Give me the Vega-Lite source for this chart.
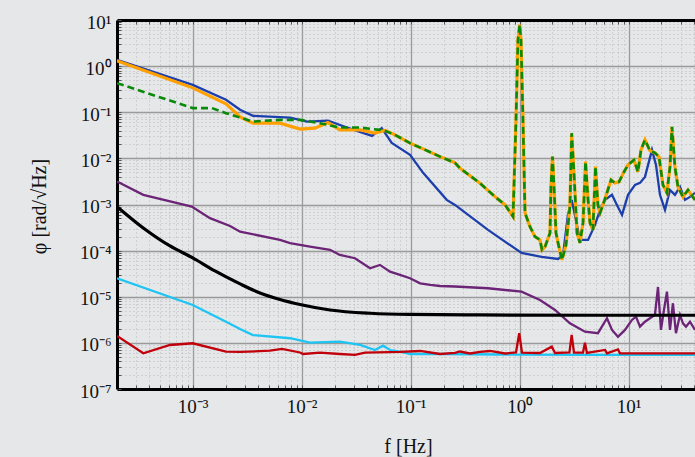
{
"$schema": "https://vega.github.io/schema/vega-lite/v6.json",
"width": 578, "height": 369,
"autosize": "none",
"padding": {"left": 117, "top": 20, "right": 0, "bottom": 68},
"background": "#e6e7e9",
"config": {"view": {"stroke": null}, "axis": {"labelFont": "Liberation Serif", "titleFont": "Liberation Serif", "labelColor": "#111111", "titleColor": "#111111", "titleFontWeight": "normal"}},
"datasets": {
"d": [
{"s":"blue","f":2.02e-4,"v":1.37},{"s":"blue","f":1.0e-3,"v":0.393},{"s":"blue","f":2.02e-3,"v":0.186},{"s":"blue","f":2.72e-3,"v":0.113},{"s":"blue","f":3.57e-3,"v":0.0835},{"s":"blue","f":7.82e-3,"v":0.0767},{"s":"blue","f":1.12e-2,"v":0.0628},{"s":"blue","f":1.74e-2,"v":0.0661},{"s":"blue","f":2.61e-2,"v":0.0466},{"s":"blue","f":4.42e-2,"v":0.0308},{"s":"blue","f":5.42e-2,"v":0.0452},{"s":"blue","f":6.70e-2,"v":0.0217},{"s":"blue","f":9.86e-2,"v":0.0119},{"s":"blue","f":0.130,"v":0.00485},{"s":"blue","f":0.214,"v":0.00126},{"s":"blue","f":0.255,"v":9.8e-4},{"s":"blue","f":0.512,"v":2.81e-4},{"s":"blue","f":1.04,"v":8.9e-5},{"s":"blue","f":1.59,"v":7.3e-5},{"s":"blue","f":2.25,"v":6.6e-5},{"s":"blue","f":2.50,"v":8.07e-5},{"s":"blue","f":2.77,"v":5.94e-4},{"s":"blue","f":3.00,"v":1.26e-3},{"s":"blue","f":3.21,"v":5.94e-4},{"s":"blue","f":3.57,"v":1.71e-4},{"s":"blue","f":4.24,"v":1.71e-4},{"s":"blue","f":4.91,"v":3.61e-4},{"s":"blue","f":5.46,"v":7.64e-4},{"s":"blue","f":6.07,"v":1.26e-3},{"s":"blue","f":7.03,"v":1.62e-3},{"s":"blue","f":7.80,"v":9.8e-4},{"s":"blue","f":8.69,"v":5.94e-4},{"s":"blue","f":9.86,"v":1.62e-3},{"s":"blue","f":11.43,"v":2.66e-3},{"s":"blue","f":12.70,"v":2.94e-3},{"s":"blue","f":14.11,"v":3.97e-3},{"s":"blue","f":16.37,"v":0.0153},{"s":"blue","f":17.81,"v":7.23e-3},{"s":"blue","f":19.37,"v":1.62e-3},{"s":"blue","f":21.53,"v":7.64e-4},{"s":"blue","f":23.93,"v":2.07e-3},{"s":"blue","f":26.58,"v":1.62e-3},{"s":"blue","f":29.56,"v":2.41e-3},{"s":"blue","f":32.85,"v":1.26e-3},{"s":"blue","f":36.5,"v":1.46e-3},{"s":"blue","f":40.6,"v":1.79e-3},
{"s":"orange","f":2.02e-4,"v":1.30},{"s":"orange","f":1.0e-3,"v":0.338},{"s":"orange","f":2.02e-3,"v":0.152},{"s":"orange","f":2.72e-3,"v":0.0795},{"s":"orange","f":3.57e-3,"v":0.0580},{"s":"orange","f":6.32e-3,"v":0.0580},{"s":"orange","f":9.66e-3,"v":0.0430},{"s":"orange","f":1.32e-2,"v":0.0452},{"s":"orange","f":1.74e-2,"v":0.0598},{"s":"orange","f":2.24e-2,"v":0.0415},{"s":"orange","f":3.43e-2,"v":0.0415},{"s":"orange","f":4.70e-2,"v":0.0352},{"s":"orange","f":5.81e-2,"v":0.0401},{"s":"orange","f":7.18e-2,"v":0.0323},{"s":"orange","f":9.86e-2,"v":0.0214},{"s":"orange","f":0.136,"v":0.0153},{"s":"orange","f":0.186,"v":0.0109},{"s":"orange","f":0.255,"v":7.98e-3},{"s":"orange","f":0.283,"v":6.13e-3},{"s":"orange","f":0.432,"v":2.90e-3},{"s":"orange","f":0.593,"v":1.48e-3},{"s":"orange","f":0.735,"v":9.80e-4},{"s":"orange","f":0.869,"v":5.47e-4},{"s":"orange","f":0.925,"v":0.0684},{"s":"orange","f":0.964,"v":3.72},{"s":"orange","f":1.0,"v":7.87},{"s":"orange","f":1.028,"v":3.72},{"s":"orange","f":1.072,"v":0.0684},{"s":"orange","f":1.119,"v":6.57e-4},{"s":"orange","f":1.242,"v":3.32e-4},{"s":"orange","f":1.380,"v":2.01e-4},{"s":"orange","f":1.535,"v":1.71e-4},{"s":"orange","f":1.603,"v":1.04e-4},{"s":"orange","f":1.710,"v":1.22e-4},{"s":"orange","f":1.897,"v":2.42e-4},{"s":"orange","f":1.936,"v":2.45e-3},{"s":"orange","f":2.0,"v":0.0109},{"s":"orange","f":2.065,"v":2.45e-3},{"s":"orange","f":2.153,"v":2.42e-4},{"s":"orange","f":2.249,"v":1.47e-4},{"s":"orange","f":2.443,"v":6.28e-5},{"s":"orange","f":2.66,"v":1.33e-4},{"s":"orange","f":2.891,"v":9.0e-4},{"s":"orange","f":3.0,"v":0.0352},{"s":"orange","f":3.148,"v":4.85e-3},{"s":"orange","f":3.357,"v":2.42e-4},{"s":"orange","f":3.573,"v":1.47e-4},{"s":"orange","f":3.811,"v":3.99e-4},{"s":"orange","f":4.02,"v":8.53e-3},{"s":"orange","f":4.24,"v":1.26e-3},{"s":"orange","f":4.416,"v":3.99e-4},{"s":"orange","f":4.699,"v":2.81e-4},{"s":"orange","f":4.96,"v":6.64e-3},{"s":"orange","f":5.22,"v":9.8e-4},{"s":"orange","f":5.458,"v":6.57e-4},{"s":"orange","f":5.81,"v":9.8e-4},{"s":"orange","f":6.32,"v":1.79e-3},{"s":"orange","f":6.89,"v":3.42e-3},{"s":"orange","f":7.48,"v":2.94e-3},{"s":"orange","f":8.15,"v":3.09e-3},{"s":"orange","f":9.06,"v":5.09e-3},{"s":"orange","f":9.86,"v":7.23e-3},{"s":"orange","f":11.19,"v":9.27e-3},{"s":"orange","f":12.17,"v":5.09e-3},{"s":"orange","f":12.97,"v":0.0153},{"s":"orange","f":14.11,"v":0.0252},{"s":"orange","f":15.68,"v":0.0146},{"s":"orange","f":17.42,"v":0.0132},{"s":"orange","f":18.97,"v":0.0108},{"s":"orange","f":20.63,"v":2.66e-3},{"s":"orange","f":22.44,"v":1.79e-3},{"s":"orange","f":23.93,"v":6.54e-3},{"s":"orange","f":24.95,"v":0.0482},{"s":"orange","f":26.58,"v":6.54e-3},{"s":"orange","f":28.33,"v":2.41e-3},{"s":"orange","f":31.48,"v":1.46e-3},{"s":"orange","f":35.01,"v":2.07e-3},{"s":"orange","f":38.1,"v":1.54e-3},{"s":"orange","f":40.6,"v":1.26e-3},
{"s":"green","f":2.02e-4,"v":0.428},{"s":"green","f":1.0e-3,"v":0.123},{"s":"green","f":1.50e-3,"v":0.123},{"s":"green","f":2.02e-3,"v":0.0956},{"s":"green","f":2.72e-3,"v":0.0767},{"s":"green","f":3.57e-3,"v":0.0628},{"s":"green","f":6.32e-3,"v":0.0684},{"s":"green","f":9.66e-3,"v":0.0684},{"s":"green","f":1.47e-2,"v":0.0580},{"s":"green","f":2.24e-2,"v":0.0466},{"s":"green","f":3.43e-2,"v":0.0466},{"s":"green","f":5.22e-2,"v":0.0415},{"s":"green","f":5.81e-2,"v":0.0395},{"s":"green","f":7.18e-2,"v":0.0323},{"s":"green","f":9.86e-2,"v":0.0214},{"s":"green","f":0.136,"v":0.0153},{"s":"green","f":0.186,"v":0.0109},{"s":"green","f":0.255,"v":7.98e-3},{"s":"green","f":0.283,"v":6.13e-3},{"s":"green","f":0.432,"v":2.90e-3},{"s":"green","f":0.593,"v":1.48e-3},{"s":"green","f":0.735,"v":9.80e-4},{"s":"green","f":0.869,"v":5.47e-4},{"s":"green","f":0.925,"v":0.0684},{"s":"green","f":0.964,"v":3.72},{"s":"green","f":1.0,"v":7.87},{"s":"green","f":1.028,"v":3.72},{"s":"green","f":1.072,"v":0.0684},{"s":"green","f":1.119,"v":6.57e-4},{"s":"green","f":1.242,"v":3.32e-4},{"s":"green","f":1.380,"v":2.01e-4},{"s":"green","f":1.535,"v":1.71e-4},{"s":"green","f":1.603,"v":1.04e-4},{"s":"green","f":1.710,"v":1.22e-4},{"s":"green","f":1.897,"v":2.42e-4},{"s":"green","f":1.936,"v":2.45e-3},{"s":"green","f":2.0,"v":0.0109},{"s":"green","f":2.065,"v":2.45e-3},{"s":"green","f":2.153,"v":2.42e-4},{"s":"green","f":2.249,"v":1.47e-4},{"s":"green","f":2.443,"v":6.28e-5},{"s":"green","f":2.66,"v":1.33e-4},{"s":"green","f":2.891,"v":9.0e-4},{"s":"green","f":3.0,"v":0.0352},{"s":"green","f":3.148,"v":4.85e-3},{"s":"green","f":3.357,"v":2.42e-4},{"s":"green","f":3.573,"v":1.47e-4},{"s":"green","f":3.811,"v":3.99e-4},{"s":"green","f":4.02,"v":8.53e-3},{"s":"green","f":4.24,"v":1.26e-3},{"s":"green","f":4.416,"v":3.99e-4},{"s":"green","f":4.699,"v":2.81e-4},{"s":"green","f":4.96,"v":6.64e-3},{"s":"green","f":5.22,"v":9.8e-4},{"s":"green","f":5.458,"v":6.57e-4},{"s":"green","f":5.81,"v":9.8e-4},{"s":"green","f":6.32,"v":1.79e-3},{"s":"green","f":6.89,"v":3.42e-3},{"s":"green","f":7.48,"v":2.94e-3},{"s":"green","f":8.15,"v":3.09e-3},{"s":"green","f":9.06,"v":5.09e-3},{"s":"green","f":9.86,"v":7.23e-3},{"s":"green","f":11.19,"v":9.27e-3},{"s":"green","f":12.17,"v":5.09e-3},{"s":"green","f":12.97,"v":0.0153},{"s":"green","f":14.11,"v":0.0252},{"s":"green","f":15.68,"v":0.0146},{"s":"green","f":17.42,"v":0.0132},{"s":"green","f":18.97,"v":0.0108},{"s":"green","f":20.63,"v":2.66e-3},{"s":"green","f":22.44,"v":1.79e-3},{"s":"green","f":23.93,"v":6.54e-3},{"s":"green","f":24.95,"v":0.0482},{"s":"green","f":26.58,"v":6.54e-3},{"s":"green","f":28.33,"v":2.41e-3},{"s":"green","f":31.48,"v":1.46e-3},{"s":"green","f":35.01,"v":2.07e-3},{"s":"green","f":38.1,"v":1.54e-3},{"s":"green","f":40.6,"v":1.26e-3},
{"s":"purple","f":2.02e-4,"v":3.14e-3},{"s":"purple","f":3.52e-4,"v":1.62e-3},{"s":"purple","f":9.8e-4,"v":9.0e-4},{"s":"purple","f":1.44e-3,"v":5.05e-4},{"s":"purple","f":2.20e-3,"v":3.43e-4},{"s":"purple","f":2.72e-3,"v":2.58e-4},{"s":"purple","f":6.32e-3,"v":1.71e-4},{"s":"purple","f":7.82e-3,"v":1.45e-4},{"s":"purple","f":1.19e-2,"v":1.22e-4},{"s":"purple","f":1.82e-2,"v":1.04e-4},{"s":"purple","f":2.24e-2,"v":8.07e-5},{"s":"purple","f":3.08e-2,"v":6.84e-5},{"s":"purple","f":4.24e-2,"v":4.15e-5},{"s":"purple","f":5.22e-2,"v":4.90e-5},{"s":"purple","f":6.46e-2,"v":3.50e-5},{"s":"purple","f":7.98e-2,"v":2.97e-5},{"s":"purple","f":9.86e-2,"v":2.52e-5},{"s":"purple","f":0.122,"v":1.96e-5},{"s":"purple","f":0.151,"v":1.80e-5},{"s":"purple","f":0.186,"v":1.71e-5},{"s":"purple","f":0.255,"v":1.67e-5},{"s":"purple","f":0.512,"v":1.53e-5},{"s":"purple","f":1.04,"v":1.29e-5},{"s":"purple","f":1.535,"v":8.53e-6},{"s":"purple","f":2.109,"v":5.17e-6},{"s":"purple","f":2.891,"v":2.66e-6},{"s":"purple","f":3.972,"v":1.75e-6},{"s":"purple","f":5.224,"v":1.62e-6},{"s":"purple","f":6.324,"v":3.42e-6},{"s":"purple","f":7.031,"v":1.91e-6},{"s":"purple","f":7.98,"v":1.36e-6},{"s":"purple","f":9.25,"v":1.91e-6},{"s":"purple","f":10.72,"v":3.14e-6},{"s":"purple","f":11.67,"v":3.70e-6},{"s":"purple","f":12.70,"v":2.25e-6},{"s":"purple","f":14.11,"v":2.88e-6},{"s":"purple","f":15.68,"v":3.42e-6},{"s":"purple","f":17.42,"v":4.03e-6},{"s":"purple","f":18.58,"v":1.63e-5},{"s":"purple","f":19.78,"v":1.91e-6},{"s":"purple","f":21.07,"v":5.17e-6},{"s":"purple","f":22.44,"v":1.29e-5},{"s":"purple","f":23.93,"v":1.91e-6},{"s":"purple","f":25.47,"v":7.23e-6},{"s":"purple","f":27.15,"v":1.62e-6},{"s":"purple","f":29.56,"v":4.03e-6},{"s":"purple","f":31.48,"v":2.66e-6},{"s":"purple","f":33.56,"v":2.25e-6},{"s":"purple","f":36.5,"v":2.88e-6},{"s":"purple","f":40.6,"v":1.91e-6},
{"s":"black","f":2.02e-4,"v":9.0e-4},{"s":"black","f":3.52e-4,"v":3.10e-4},{"s":"black","f":6.19e-4,"v":1.26e-4},{"s":"black","f":1.0e-3,"v":6.95e-5},{"s":"black","f":1.60e-3,"v":3.63e-5},{"s":"black","f":2.72e-3,"v":1.90e-5},{"s":"black","f":4.14e-3,"v":1.21e-5},{"s":"black","f":6.32e-3,"v":8.73e-6},{"s":"black","f":9.66e-3,"v":6.81e-6},{"s":"black","f":1.82e-2,"v":5.17e-6},{"s":"black","f":4.24e-2,"v":4.39e-6},{"s":"black","f":9.86e-2,"v":4.13e-6},{"s":"black","f":0.432,"v":4.03e-6},{"s":"black","f":5.458,"v":3.97e-6},{"s":"black","f":40.6,"v":3.97e-6},
{"s":"cyan","f":2.02e-4,"v":2.52e-5},{"s":"cyan","f":1.0e-3,"v":6.64e-6},{"s":"cyan","f":2.02e-3,"v":2.88e-6},{"s":"cyan","f":2.72e-3,"v":2.0e-6},{"s":"cyan","f":3.57e-3,"v":1.48e-6},{"s":"cyan","f":7.82e-3,"v":1.26e-6},{"s":"cyan","f":1.19e-2,"v":1.01e-6},{"s":"cyan","f":2.24e-2,"v":1.06e-6},{"s":"cyan","f":3.43e-2,"v":9.0e-7},{"s":"cyan","f":4.70e-2,"v":7.0e-7},{"s":"cyan","f":5.57e-2,"v":8.7e-7},{"s":"cyan","f":6.46e-2,"v":7.0e-7},{"s":"cyan","f":7.98e-2,"v":6.44e-7},{"s":"cyan","f":9.86e-2,"v":5.74e-7},{"s":"cyan","f":0.186,"v":5.74e-7},{"s":"cyan","f":0.659,"v":5.6e-7},{"s":"cyan","f":5.458,"v":5.47e-7},{"s":"cyan","f":40.6,"v":5.47e-7},
{"s":"red","f":2.02e-4,"v":1.41e-6},{"s":"red","f":3.52e-4,"v":5.95e-7},{"s":"red","f":6.19e-4,"v":9.0e-7},{"s":"red","f":1.0e-3,"v":9.8e-7},{"s":"red","f":2.02e-3,"v":6.44e-7},{"s":"red","f":2.72e-3,"v":6.35e-7},{"s":"red","f":5.12e-3,"v":6.77e-7},{"s":"red","f":6.59e-3,"v":7.38e-7},{"s":"red","f":9.66e-3,"v":6.19e-7},{"s":"red","f":1.03e-2,"v":5.74e-7},{"s":"red","f":1.47e-2,"v":6.12e-7},{"s":"red","f":2.24e-2,"v":5.74e-7},{"s":"red","f":3.08e-2,"v":5.47e-7},{"s":"red","f":3.81e-2,"v":6.12e-7},{"s":"red","f":7.98e-2,"v":6.35e-7},{"s":"red","f":0.122,"v":6.67e-7},{"s":"red","f":0.186,"v":5.74e-7},{"s":"red","f":0.255,"v":6.04e-7},{"s":"red","f":0.283,"v":6.5e-7},{"s":"red","f":0.350,"v":5.89e-7},{"s":"red","f":0.432,"v":6.35e-7},{"s":"red","f":0.535,"v":6.67e-7},{"s":"red","f":0.735,"v":5.89e-7},{"s":"red","f":0.925,"v":6.19e-7},{"s":"red","f":0.99,"v":1.62e-6},{"s":"red","f":1.05,"v":6.12e-7},{"s":"red","f":1.535,"v":6.04e-7},{"s":"red","f":1.97,"v":8.27e-7},{"s":"red","f":2.11,"v":6.04e-7},{"s":"red","f":2.86,"v":6.19e-7},{"s":"red","f":3.0,"v":1.48e-6},{"s":"red","f":3.15,"v":6.12e-7},{"s":"red","f":3.81,"v":6.12e-7},{"s":"red","f":3.97,"v":1.01e-6},{"s":"red","f":4.14,"v":6.04e-7},{"s":"red","f":6.07,"v":7.02e-7},{"s":"red","f":6.32,"v":5.95e-7},{"s":"red","f":7.98,"v":7.19e-7},{"s":"red","f":8.32,"v":5.95e-7},{"s":"red","f":40.6,"v":5.95e-7}
]
},
"data": {"name": "d"},
"encoding": {
"y": {"field": "v", "type": "quantitative",
 "scale": {"type": "log", "domain": [1e-7, 10], "nice": false},
 "axis": {
  "values": [1e-7,2e-7,3e-7,4e-7,5e-7,6e-7,7e-7,8e-7,9e-7,1e-6,2e-6,3e-6,4e-6,5e-6,6e-6,7e-6,8e-6,9e-6,1e-5,2e-5,3e-5,4e-5,5e-5,6e-5,7e-5,8e-5,9e-5,1e-4,2e-4,3e-4,4e-4,5e-4,6e-4,7e-4,8e-4,9e-4,1e-3,2e-3,3e-3,4e-3,5e-3,6e-3,7e-3,8e-3,9e-3,0.01,0.02,0.03,0.04,0.05,0.06,0.07,0.08,0.09,0.1,0.2,0.3,0.4,0.5,0.6,0.7,0.8,0.9,1,2,3,4,5,6,7,8,9,10],
  "labelExpr": "abs(log(datum.value)/LN10 - round(log(datum.value)/LN10)) < 0.001 ? '10' + (round(log(datum.value)/LN10) < 0 ? '⁻' : '') + ['⁰','¹','²','³','⁴','⁵','⁶','⁷','⁸','⁹'][abs(round(log(datum.value)/LN10))] : ''",
  "labelFontSize": 19, "labelPadding": 10, "labelOffset": 2, "labelOverlap": false, "labelBound": false, "labelFlush": false,
  "title": "φ [rad/√Hz]", "titleFontSize": 20, "titleAngle": -90, "titleX": -72, "titleY": 186, "titleAlign": "center", "titleBaseline": "alphabetic",
  "domainColor": "#000000", "domainWidth": 3,
  "ticks": true, "tickSize": -4, "tickColor": "#555555", "tickWidth": 1,
  "grid": true,
  "gridColor": {"condition": {"test": "abs(log(datum.value)/LN10 - round(log(datum.value)/LN10)) < 0.001", "value": "#9a9a9a"}, "value": "#b8b8b8"},
  "gridDash": {"condition": {"test": "abs(log(datum.value)/LN10 - round(log(datum.value)/LN10)) < 0.001", "value": []}, "value": [1, 3]},
  "gridWidth": {"condition": {"test": "abs(log(datum.value)/LN10 - round(log(datum.value)/LN10)) < 0.001", "value": 1.3}, "value": 1}
 }
}
},
"layer": [
{
 "encoding": {
  "x": {"field": "f", "type": "quantitative",
   "scale": {"type": "log", "domain": [2.02e-4, 40.6], "nice": false},
   "axis": {
    "values": [2e-4,3e-4,4e-4,5e-4,6e-4,7e-4,8e-4,9e-4,1e-3,2e-3,3e-3,4e-3,5e-3,6e-3,7e-3,8e-3,9e-3,0.01,0.02,0.03,0.04,0.05,0.06,0.07,0.08,0.09,0.1,0.2,0.3,0.4,0.5,0.6,0.7,0.8,0.9,1,2,3,4,5,6,7,8,9,10,20,30,40],
    "labelExpr": "abs(log(datum.value)/LN10 - round(log(datum.value)/LN10)) < 0.001 ? '10' + (round(log(datum.value)/LN10) < 0 ? '⁻' : '') + ['⁰','¹','²','³','⁴','⁵','⁶','⁷','⁸','⁹'][abs(round(log(datum.value)/LN10))] : ''",
    "labelFontSize": 19, "labelPadding": 12, "labelOverlap": false, "labelBound": false, "labelFlush": false,
    "title": "f [Hz]", "titleFontSize": 20, "titleX": 291, "titleY": 63, "titleAlign": "center", "titleBaseline": "alphabetic",
    "domainColor": "#000000", "domainWidth": 3,
    "ticks": true, "tickSize": -4, "tickColor": "#555555", "tickWidth": 1,
    "grid": true,
    "gridColor": {"condition": {"test": "abs(log(datum.value)/LN10 - round(log(datum.value)/LN10)) < 0.001", "value": "#9a9a9a"}, "value": "#b8b8b8"},
    "gridDash": {"condition": {"test": "abs(log(datum.value)/LN10 - round(log(datum.value)/LN10)) < 0.001", "value": []}, "value": [1, 3]},
    "gridWidth": {"condition": {"test": "abs(log(datum.value)/LN10 - round(log(datum.value)/LN10)) < 0.001", "value": 1.3}, "value": 1}
   }
  }
 },
 "layer": [
  {"transform": [{"filter": "datum.s === 'blue'"}], "mark": {"type": "line", "color": "#1d3fab", "strokeWidth": 2.3, "clip": true}, "encoding": {}},
  {"transform": [{"filter": "datum.s === 'orange'"}], "mark": {"type": "line", "color": "#ffa000", "strokeWidth": 3.2, "clip": true}, "encoding": {}},
  {"transform": [{"filter": "datum.s === 'green'"}], "mark": {"type": "line", "color": "#0a8a0a", "strokeWidth": 2.6, "strokeDash": [7, 4], "clip": true}, "encoding": {}},
  {"transform": [{"filter": "datum.s === 'purple'"}], "mark": {"type": "line", "color": "#6c2477", "strokeWidth": 2.3, "clip": true}, "encoding": {}},
  {"transform": [{"filter": "datum.s === 'black'"}], "mark": {"type": "line", "color": "#000000", "strokeWidth": 3.2, "interpolate": "monotone", "clip": true}, "encoding": {}},
  {"transform": [{"filter": "datum.s === 'cyan'"}], "mark": {"type": "line", "color": "#1ec4f2", "strokeWidth": 2.3, "clip": true}, "encoding": {}},
  {"transform": [{"filter": "datum.s === 'red'"}], "mark": {"type": "line", "color": "#c0000a", "strokeWidth": 2.3, "clip": true}, "encoding": {}}
 ]
},
{
 "mark": {"type": "point", "opacity": 0},
 "encoding": {
  "x": {"field": "f", "type": "quantitative",
   "scale": {"type": "log", "domain": [2.02e-4, 40.6], "nice": false},
   "axis": {"orient": "top",
    "values": [2e-4,3e-4,4e-4,5e-4,6e-4,7e-4,8e-4,9e-4,1e-3,2e-3,3e-3,4e-3,5e-3,6e-3,7e-3,8e-3,9e-3,0.01,0.02,0.03,0.04,0.05,0.06,0.07,0.08,0.09,0.1,0.2,0.3,0.4,0.5,0.6,0.7,0.8,0.9,1,2,3,4,5,6,7,8,9,10,20,30,40],
    "labels": false, "grid": false, "title": null,
    "domainColor": "#000000", "domainWidth": 3,
    "ticks": true, "tickSize": -4, "tickColor": "#555555", "tickWidth": 1}
  }
 }
}
],
"resolve": {"axis": {"x": "independent"}}
}
